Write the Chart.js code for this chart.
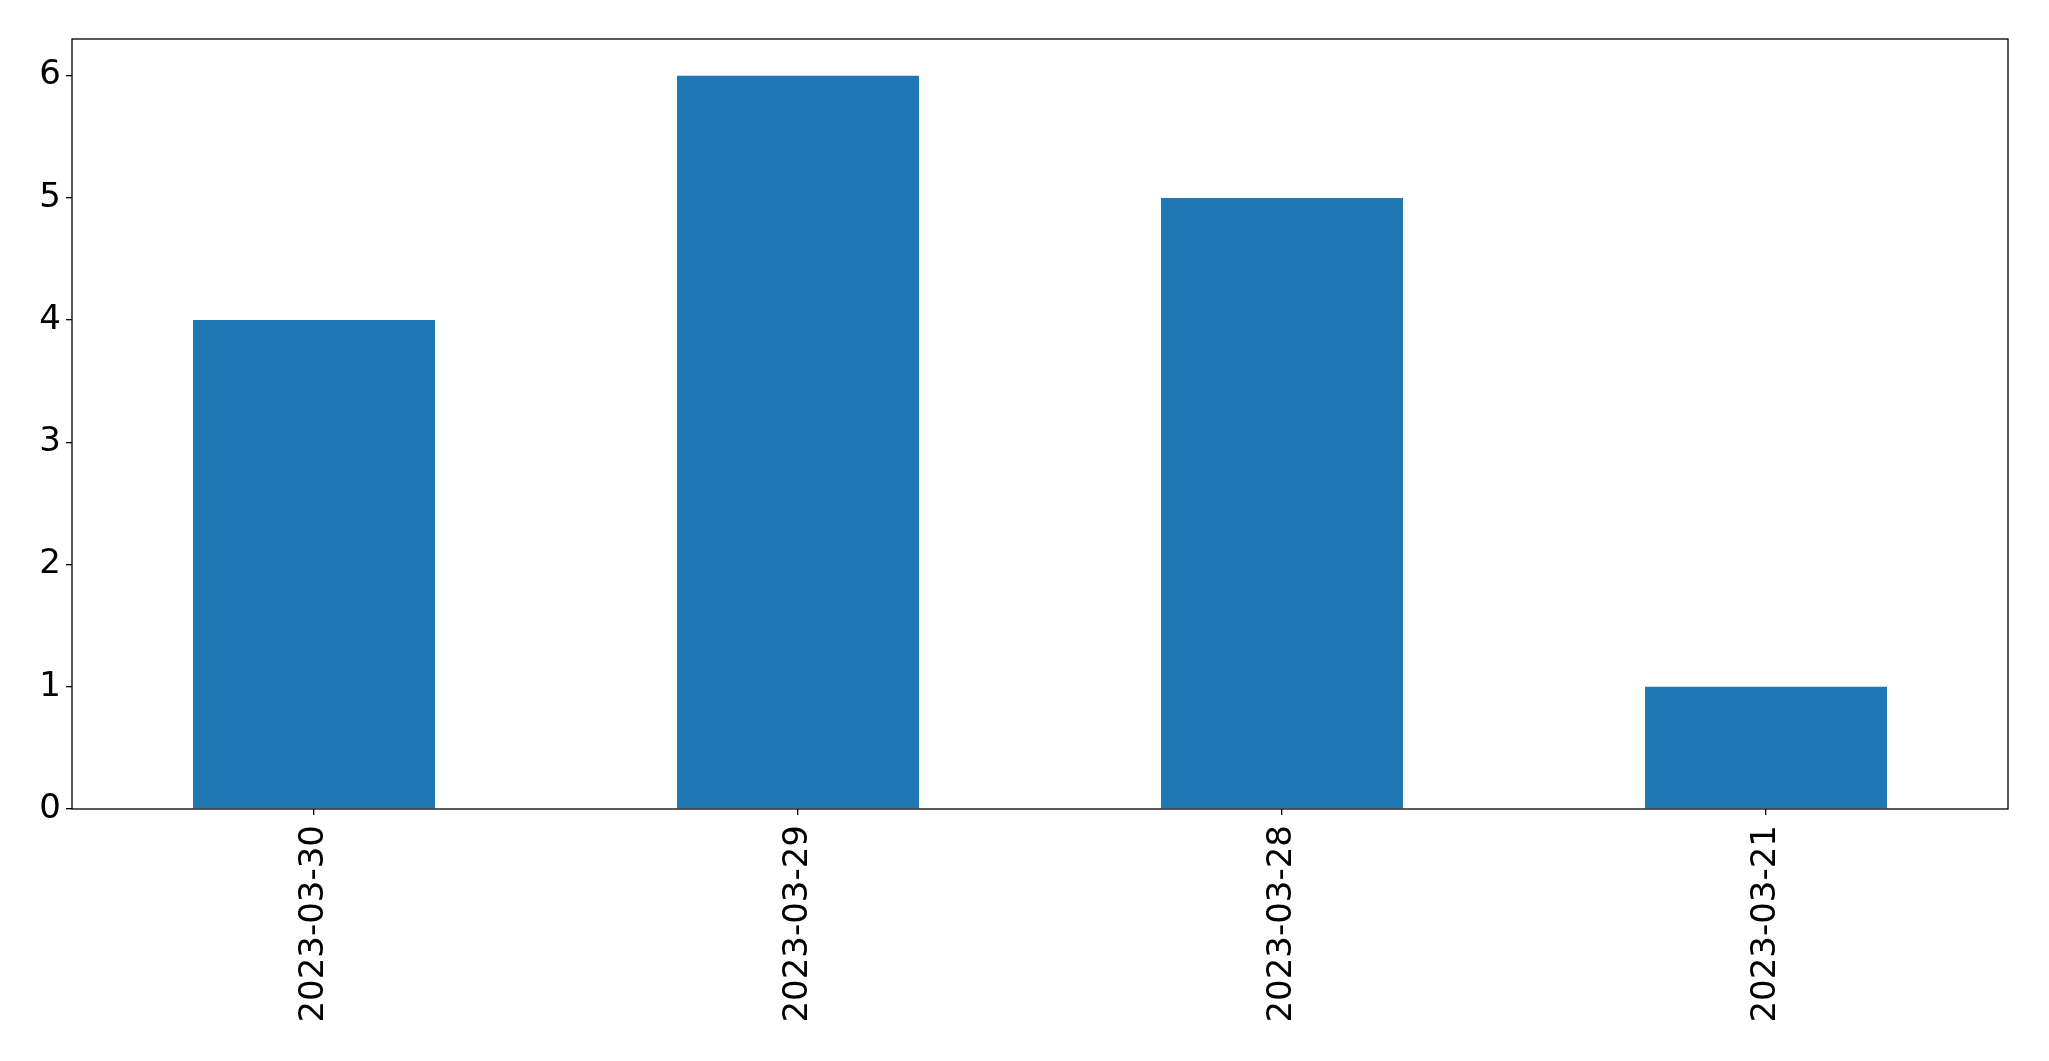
<!DOCTYPE html>
<html>
<head>
<meta charset="utf-8">
<script src="https://cdn.jsdelivr.net/npm/chart.js@4.4.0/dist/chart.umd.min.js"></script>
<style>
  html, body { margin: 0; padding: 0; background: #fff; }
  #wrap { width: 2049px; height: 1061px; }
</style>
</head>
<body>
<div id="wrap"><canvas id="grafico" width="2049" height="1061"></canvas></div>
<script>
// datos
const fechas = ["2023-03-30", "2023-03-29", "2023-03-28", "2023-03-21"];
const cantidades = [4, 6, 5, 1];
const ticksY = [0, 1, 2, 3, 4, 5, 6];
const ejeYMax = 6.3;

// marco completo alrededor del area del grafico
const marco = {
  id: "marco",
  afterDraw(chart) {
    const a = chart.chartArea;
    const ctx = chart.ctx;
    ctx.save();
    ctx.strokeStyle = "#000";
    ctx.lineWidth = 1.3;
    ctx.strokeRect(a.left, a.top, a.right - a.left, a.bottom - a.top);
    ctx.restore();
  }
};

const fuente = { family: "'DejaVu Sans'", size: 34 };

new Chart(document.getElementById("grafico"), {
  type: "bar",
  data: {
    labels: fechas,
    datasets: [{
      data: cantidades,
      backgroundColor: "#1f77b4",
      barPercentage: 0.5,
      categoryPercentage: 1.0
    }]
  },
  options: {
    responsive: false,
    animation: false,
    layout: { padding: { top: 39, right: 41, left: 0, bottom: 0 } },
    plugins: { legend: { display: false }, tooltip: { enabled: false } },
    scales: {
      x: {
        offset: true,
        grid: { display: true, offset: false, drawOnChartArea: false, drawTicks: true, tickLength: 6, color: "#000", lineWidth: 1.3 },
        border: { display: false },
        ticks: { color: "#000", font: fuente, minRotation: 90, maxRotation: 90, padding: 10, autoSkip: false },
        afterFit(scale) { scale.height = 252; }
      },
      y: {
        min: 0,
        max: ejeYMax,
        grid: { display: true, drawOnChartArea: false, drawTicks: true, tickLength: 6, color: "#000", lineWidth: 1.3 },
        border: { display: false },
        ticks: { color: "#000", font: fuente, padding: 5, autoSkip: false },
        afterBuildTicks(scale) {
          scale.ticks = ticksY.map(v => ({ value: v }));
        },
        afterFit(scale) { scale.width = 72; }
      }
    }
  },
  plugins: [marco]
});
</script>
</body>
</html>
